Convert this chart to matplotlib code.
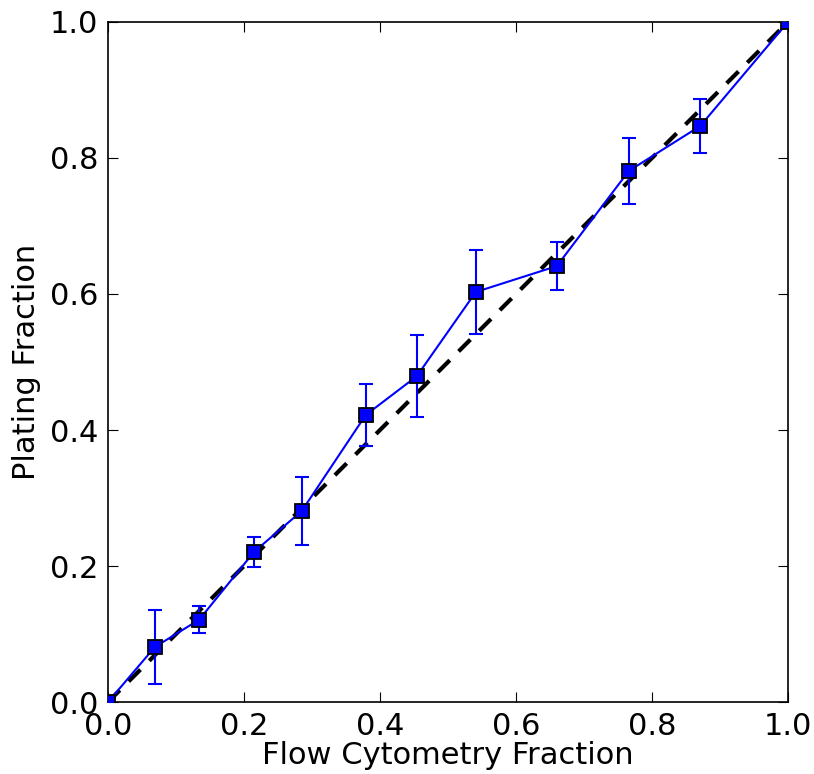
import matplotlib
matplotlib.use('Agg')
import matplotlib.pyplot as plt
import numpy as np

# data
flow = [0.0, 0.069, 0.134, 0.215, 0.285, 0.379, 0.454, 0.541, 0.660, 0.766, 0.871, 1.0]
plating = [0.0, 0.081, 0.121, 0.221, 0.281, 0.422, 0.479, 0.603, 0.641, 0.781, 0.847, 1.0]
plating_err = [0.0, 0.055, 0.020, 0.022, 0.050, 0.045, 0.060, 0.062, 0.035, 0.048, 0.040, 0.0]

fig = plt.figure(figsize=(8.14, 7.74), dpi=100)
ax = fig.add_axes([0.1327, 0.093, 0.8353, 0.8786])

ax.plot([0, 1], [0, 1], 'k--', lw=3, dashes=(4, 3), zorder=2)
ax.errorbar(flow, plating, yerr=plating_err, fmt='b-', lw=1.5, elinewidth=1.5,
            capsize=5, capthick=1.5, zorder=3)
ax.plot(flow, plating, 's', color='b', mec='k', mew=1.3, ms=10.5, zorder=4)

ax.set_xlim(0, 1)
ax.set_ylim(0, 1)
ax.set_xticks(np.arange(0, 1.01, 0.2))
ax.set_yticks(np.arange(0, 1.01, 0.2))
ax.tick_params(direction='in', top=True, right=True, labelsize=22, length=7, pad=7)
for s in ax.spines.values():
    s.set_linewidth(1.2)
ax.set_xlabel('Flow Cytometry Fraction', fontsize=22)
ax.set_ylabel('Plating Fraction', fontsize=22)
ax.xaxis.labelpad = 0
ax.yaxis.labelpad = 6

fig.savefig('out.png', dpi=100)
